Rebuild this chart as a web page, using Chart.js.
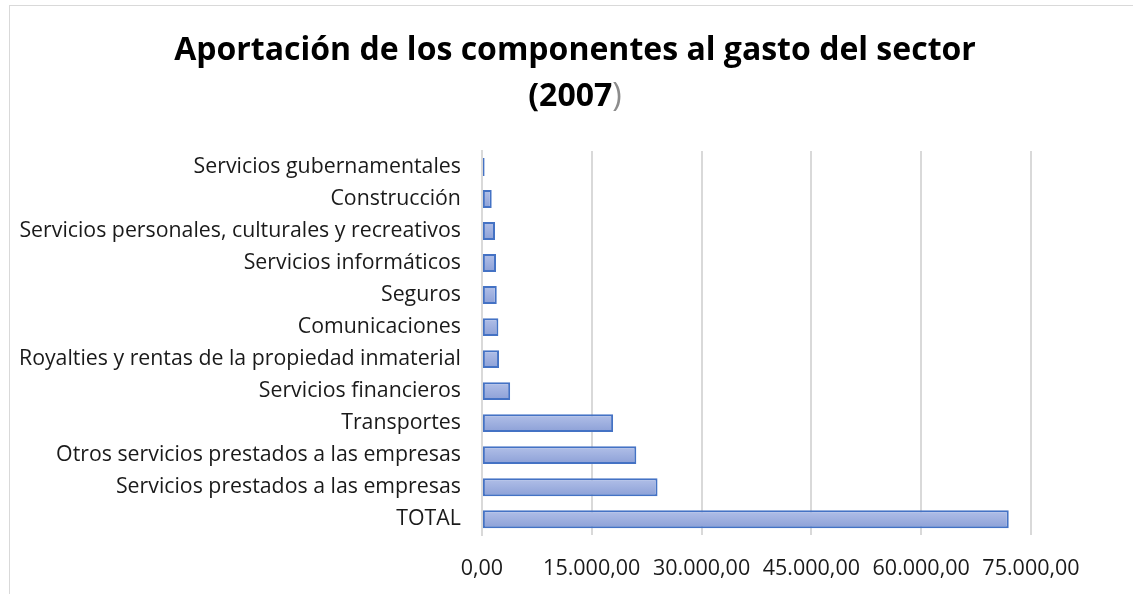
<!DOCTYPE html>
<html>
<head>
<meta charset="utf-8">
<script src="https://cdn.jsdelivr.net/npm/chart.js@4"></script>
<style>
  html, body { margin: 0; padding: 0; background: #fff; }
  #wrap { position: relative; width: 1133px; height: 594px; }
  #frame { position: absolute; left: 9px; top: 5px; width: 1140px; height: 600px;
           border-top: 1px solid #d9d9d9; border-left: 1px solid #d9d9d9; }
  canvas { position: absolute; left: 0; top: 0; }
</style>
</head>
<body>
<div id="wrap">
  <div id="frame"></div>
  <canvas id="canvasChart" width="1133" height="594"></canvas>
</div>
<script>
"use strict";

var categories = [
	'Servicios gubernamentales',
	'Construcción',
	'Servicios personales, culturales y recreativos',
	'Servicios informáticos',
	'Seguros',
	'Comunicaciones',
	'Royalties y rentas de la propiedad inmaterial',
	'Servicios financieros',
	'Transportes',
	'Otros servicios prestados a las empresas',
	'Servicios prestados a las empresas',
	'TOTAL'
];
var values = [370, 1340, 1790, 1930, 2030, 2250, 2340, 3860, 17920, 21090, 23990, 71960];
var tickLabels = ['0,00', '15.000,00', '30.000,00', '45.000,00', '60.000,00', '75.000,00'];
var titleLine1 = 'Aportación de los componentes al gasto del sector';
var titleLine2 = '(2007';
var titleLine2End = ')';

var fontFamily = '"Open Sans", Lato, sans-serif';

// title drawn by hand so the closing bracket can be grey like in the original
var titlePlugin = {
	id: 'twoLineTitle',
	afterDraw: function (chart) {
		var ctx = chart.ctx;
		ctx.save();
		ctx.font = 'bold 32px ' + fontFamily;
		ctx.textBaseline = 'middle';
		ctx.textAlign = 'center';
		ctx.fillStyle = '#000';
		var cx = 575;
		ctx.fillText(titleLine1, cx, 51);
		var w1 = ctx.measureText(titleLine2).width;
		ctx.font = '32px ' + fontFamily;
		var w2 = ctx.measureText(titleLine2End).width;
		var start = cx - (w1 + w2) / 2;
		ctx.textAlign = 'left';
		ctx.font = 'bold 32px ' + fontFamily;
		ctx.fillText(titleLine2, start, 97);
		ctx.font = '32px ' + fontFamily;
		ctx.fillStyle = '#8c8c8c';
		ctx.fillText(titleLine2End, start + w1, 97);
		ctx.restore();
	}
};

function BarGradient(context) {
	var chart = context.chart;
	if (!chart.chartArea) {
		return '#9fb0de';
	}
	var y = chart.scales.y.getPixelForValue(context.dataIndex);
	var g = chart.ctx.createLinearGradient(0, y - 9, 0, y + 9);
	g.addColorStop(0, '#b2c0e8');
	g.addColorStop(1, '#8ca0d7');
	return g;
}

const context = document.getElementById('canvasChart');
const myChart = new Chart(context, {
	type: 'bar',
	data: {
		labels: categories,
		datasets: [{
			data: values,
			backgroundColor: BarGradient,
			borderColor: '#4472c4',
			borderWidth: 2,
			borderSkipped: false,
			barPercentage: 0.56,
			categoryPercentage: 1.0
		}]
	},
	options: {
		indexAxis: 'y',
		responsive: false,
		animation: false,
		layout: {
			padding: { top: 151, left: -2, right: 102, bottom: -9 }
		},
		plugins: {
			legend: { display: false },
			tooltip: { enabled: false },
			title: { display: false }
		},
		scales: {
			x: {
				min: 0,
				max: 75000,
				ticks: {
					stepSize: 15000,
					padding: 21,
					color: '#1a1a1a',
					font: { family: fontFamily, size: 21.5 },
					callback: function (value, index) {
						return tickLabels[index];
					}
				},
				grid: { color: '#d9d9d9', lineWidth: 2, drawTicks: false },
				border: { display: false }
			},
			y: {
				ticks: {
					padding: 21,
					color: '#1a1a1a',
					font: { family: fontFamily, size: 21.3 }
				},
				grid: { display: false, drawTicks: false },
				border: { display: true, color: '#d9d9d9', width: 2 }
			}
		}
	},
	plugins: [titlePlugin]
});
</script>
</body>
</html>
